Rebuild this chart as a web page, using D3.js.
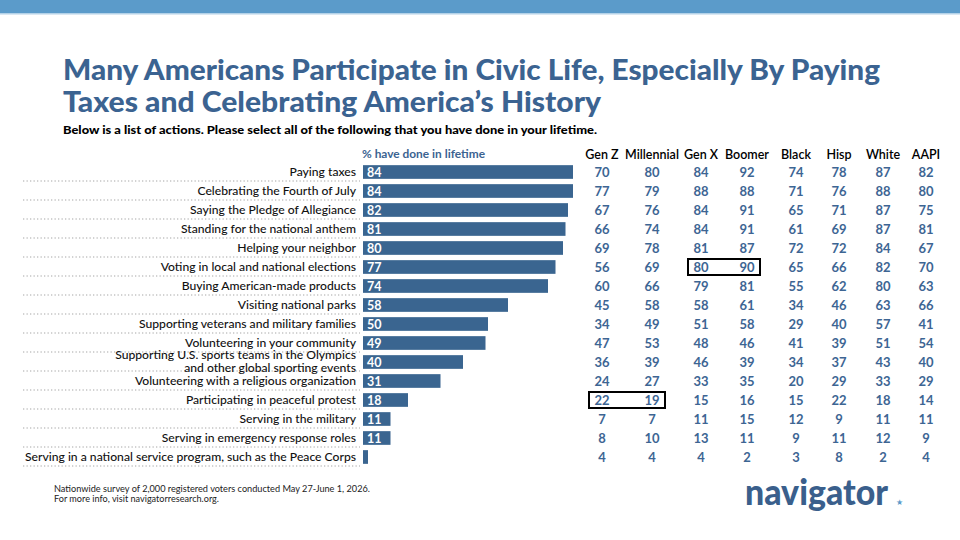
<!DOCTYPE html>
<html>
<head>
<meta charset="utf-8">
<script src="https://cdn.jsdelivr.net/npm/d3@7"></script>
<style>
  body { margin: 0; background: #fff; }
  svg { display: block; }
</style>
</head>
<body>
<div id="chart"></div>
<script>
// actions, total % and crosstab columns
const actions = [
  "Paying taxes",
  "Celebrating the Fourth of July",
  "Saying the Pledge of Allegiance",
  "Standing for the national anthem",
  "Helping your neighbor",
  "Voting in local and national elections",
  "Buying American-made products",
  "Visiting national parks",
  "Supporting veterans and military families",
  "Volunteering in your community",
  "Supporting U.S. sports teams in the Olympics|and other global sporting events",
  "Volunteering with a religious organization",
  "Participating in peaceful protest",
  "Serving in the military",
  "Serving in emergency response roles",
  "Serving in a national service program, such as the Peace Corps"
]
const totals = [84, 84, 82, 81, 80, 77, 74, 58, 50, 49, 40, 31, 18, 11, 11, 2]

const columns = ["Gen Z", "Millennial", "Gen X", "Boomer", "Black", "Hisp", "White", "AAPI"]
const genZ       = [70, 77, 67, 66, 69, 56, 60, 45, 34, 47, 36, 24, 22, 7, 8, 4]
const millennial = [80, 79, 76, 74, 78, 69, 66, 58, 49, 53, 39, 27, 19, 7, 10, 4]
const genX       = [84, 88, 84, 84, 81, 80, 79, 58, 51, 48, 46, 33, 15, 11, 13, 4]
const boomer     = [92, 88, 91, 91, 87, 90, 81, 61, 58, 46, 39, 35, 16, 15, 11, 2]
const black      = [74, 71, 65, 61, 72, 65, 55, 34, 29, 41, 34, 20, 15, 12, 9, 3]
const hisp       = [78, 76, 71, 69, 72, 66, 62, 46, 40, 39, 37, 29, 22, 9, 11, 8]
const white      = [87, 88, 87, 87, 84, 82, 80, 63, 57, 51, 43, 33, 18, 11, 12, 2]
const aapi       = [82, 80, 75, 81, 67, 70, 63, 66, 41, 54, 40, 29, 14, 11, 9, 4]

// boxed cells: [row index, first column, last column]
const highlights = [[5, "Gen X", "Boomer"], [12, "Gen Z", "Millennial"]]

const WIDTH = 960
const HEIGHT = 540
const BLUE = "#3b6391"
const FONT = "Lato, 'Open Sans', sans-serif"

const table = [genZ, millennial, genX, boomer, black, hisp, white, aapi]
const rows = actions.map((a, i) => ({
    label: a, total: totals[i],
    cells: columns.map((c, j) => ({col: c, value: table[j][i]}))
}))

// squeeze a text to a given width (the slide uses condensed faces)
function fit(sel, w) {
    sel.attr("textLength", w).attr("lengthAdjust", "spacingAndGlyphs")
}

let svg = d3.select("#chart").append("svg")
    .attr("width", WIDTH)
    .attr("height", HEIGHT)
    .style("font-family", FONT)

// top band
svg.append("rect").attr("x", 0).attr("y", 0).attr("width", WIDTH).attr("height", 13).attr("fill", "#5b9bca")
svg.append("rect").attr("x", 0).attr("y", 13).attr("width", WIDTH).attr("height", 1.5).attr("fill", "#b4d2e8")

// title
svg.append("text")
    .attr("x", 63).attr("y", 80)
    .attr("font-size", 28).attr("font-weight", 900).attr("fill", BLUE)
    .text("Many Americans Participate in Civic Life, Especially By Paying")
    .call(fit, 817)
svg.append("text")
    .attr("x", 63).attr("y", 112)
    .attr("font-size", 28).attr("font-weight", 900).attr("fill", BLUE)
    .text("Taxes and Celebrating America\u2019s History")
    .call(fit, 538)

svg.append("text")
    .attr("x", 63).attr("y", 134)
    .attr("font-size", 11.5).attr("font-weight", 900).attr("fill", "#000")
    .text("Below is a list of actions. Please select all of the following that you have done in your lifetime.")
    .call(fit, 534)

// scales
let y = d3.scaleBand()
    .domain(d3.range(rows.length))
    .range([162.5, 466.5])
    .paddingInner(0.28)
    .paddingOuter(0.14)

let x = d3.scaleLinear()
    .domain([0, 84])
    .range([363, 573])

let colX = d3.scaleOrdinal()
    .domain(columns)
    .range([602, 652, 701, 747, 796, 839, 883, 926])

const rowMid = i => y(i) + y.bandwidth() / 2

svg.append("text")
    .attr("x", 362).attr("y", 158)
    .attr("font-size", 12).attr("font-weight", 700).attr("fill", BLUE)
    .text("% have done in lifetime")
    .call(fit, 123)

// dotted separators
svg.append("g").selectAll("line")
    .data(rows)
    .join("line")
    .attr("x1", 23).attr("x2", 360)
    .attr("y1", (d, i) => rowMid(i) + 9)
    .attr("y2", (d, i) => rowMid(i) + 9)
    .attr("stroke", "#c4c4c4")
    .attr("stroke-width", 1.3)
    .attr("stroke-dasharray", "1.3,2.2")

// row labels (multi-line split on |), condensed to match the slide
let lines = []
rows.forEach((d, i) => {
    const parts = d.label.split("|")
    parts.forEach((p, k) => lines.push({
        text: p, row: i, multi: parts.length > 1,
        off: parts.length > 1 ? (k === 0 ? -6.8 : 6.8) : 0
    }))
})
let labels = svg.append("g")
    .attr("text-anchor", "end")
    .attr("font-weight", 500)
    .attr("fill", "#111")
let labelText = labels.selectAll("text")
    .data(lines)
    .join("text")
    .attr("x", 356)
    .attr("y", d => rowMid(d.row) + d.off)
    .attr("dy", "0.35em")
    .attr("font-size", 12)
    .text(d => d.text)
// common squeeze factor from the longest label
const widths = labelText.nodes().map(n => n.getComputedTextLength())
const squeeze = 331 / d3.max(widths)
labelText.each(function(d, i) { d3.select(this).call(fit, widths[i] * squeeze) })
labelText.filter(d => d.multi).attr("font-size", 10.5)

// bars
svg.append("g").selectAll("rect")
    .data(rows)
    .join("rect")
    .attr("x", x(0))
    .attr("y", (d, i) => y(i))
    .attr("width", d => x(d.total) - x(0))
    .attr("height", y.bandwidth())
    .attr("fill", "#3a6590")

svg.append("g").selectAll("text")
    .data(rows.filter(d => d.total >= 5))
    .join("text")
    .attr("x", x(0) + 4)
    .attr("y", d => rowMid(rows.indexOf(d)))
    .attr("dy", "0.36em")
    .attr("font-size", 12.5).attr("font-weight", 700)
    .attr("fill", "#fff")
    .text(d => d.total)

// crosstab header
svg.append("g").selectAll("text")
    .data(columns)
    .join("text")
    .attr("x", d => colX(d))
    .attr("y", 159)
    .attr("text-anchor", "middle")
    .attr("font-size", 12.5).attr("font-weight", 600)
    .attr("fill", "#000")
    .text(d => d)

// crosstab values
let rowG = svg.append("g").selectAll("g")
    .data(rows)
    .join("g")
    .attr("transform", (d, i) => `translate(0,${rowMid(i)})`)
rowG.selectAll("text")
    .data(d => d.cells)
    .join("text")
    .attr("x", d => colX(d.col))
    .attr("dy", "0.36em")
    .attr("text-anchor", "middle")
    .attr("font-size", 13).attr("font-weight", 700)
    .attr("fill", "#3d6593")
    .text(d => d.value)

// highlight boxes
svg.append("g").selectAll("rect")
    .data(highlights)
    .join("rect")
    .attr("x", d => colX(d[1]) - 13)
    .attr("y", d => rowMid(d[0]) - 8)
    .attr("width", d => colX(d[2]) - colX(d[1]) + 26)
    .attr("height", 16)
    .attr("fill", "none")
    .attr("stroke", "#000")
    .attr("stroke-width", 2)

// footer
const notes = ["Nationwide survey of 2,000 registered voters conducted May 27-June 1, 2026.",
               "For more info, visit navigatorresearch.org."]
const noteWidths = [316, 165]
svg.append("g").selectAll("text")
    .data(notes)
    .join("text")
    .attr("x", 54)
    .attr("y", (d, i) => 492 + i * 10)
    .attr("font-size", 9)
    .attr("fill", "#222")
    .text(d => d)
    .each(function(d, i) { d3.select(this).call(fit, noteWidths[i]) })

// logo
svg.append("text")
    .attr("x", 745).attr("y", 505)
    .attr("font-size", 36).attr("font-weight", 900)
    .attr("fill", "#3a5f8c")
    .text("navigator")
    .call(fit, 143)
svg.append("text")
    .attr("x", 896).attr("y", 505)
    .attr("font-size", 8)
    .attr("fill", "#5b9bca")
    .text("\u2605")
</script>
</body>
</html>
